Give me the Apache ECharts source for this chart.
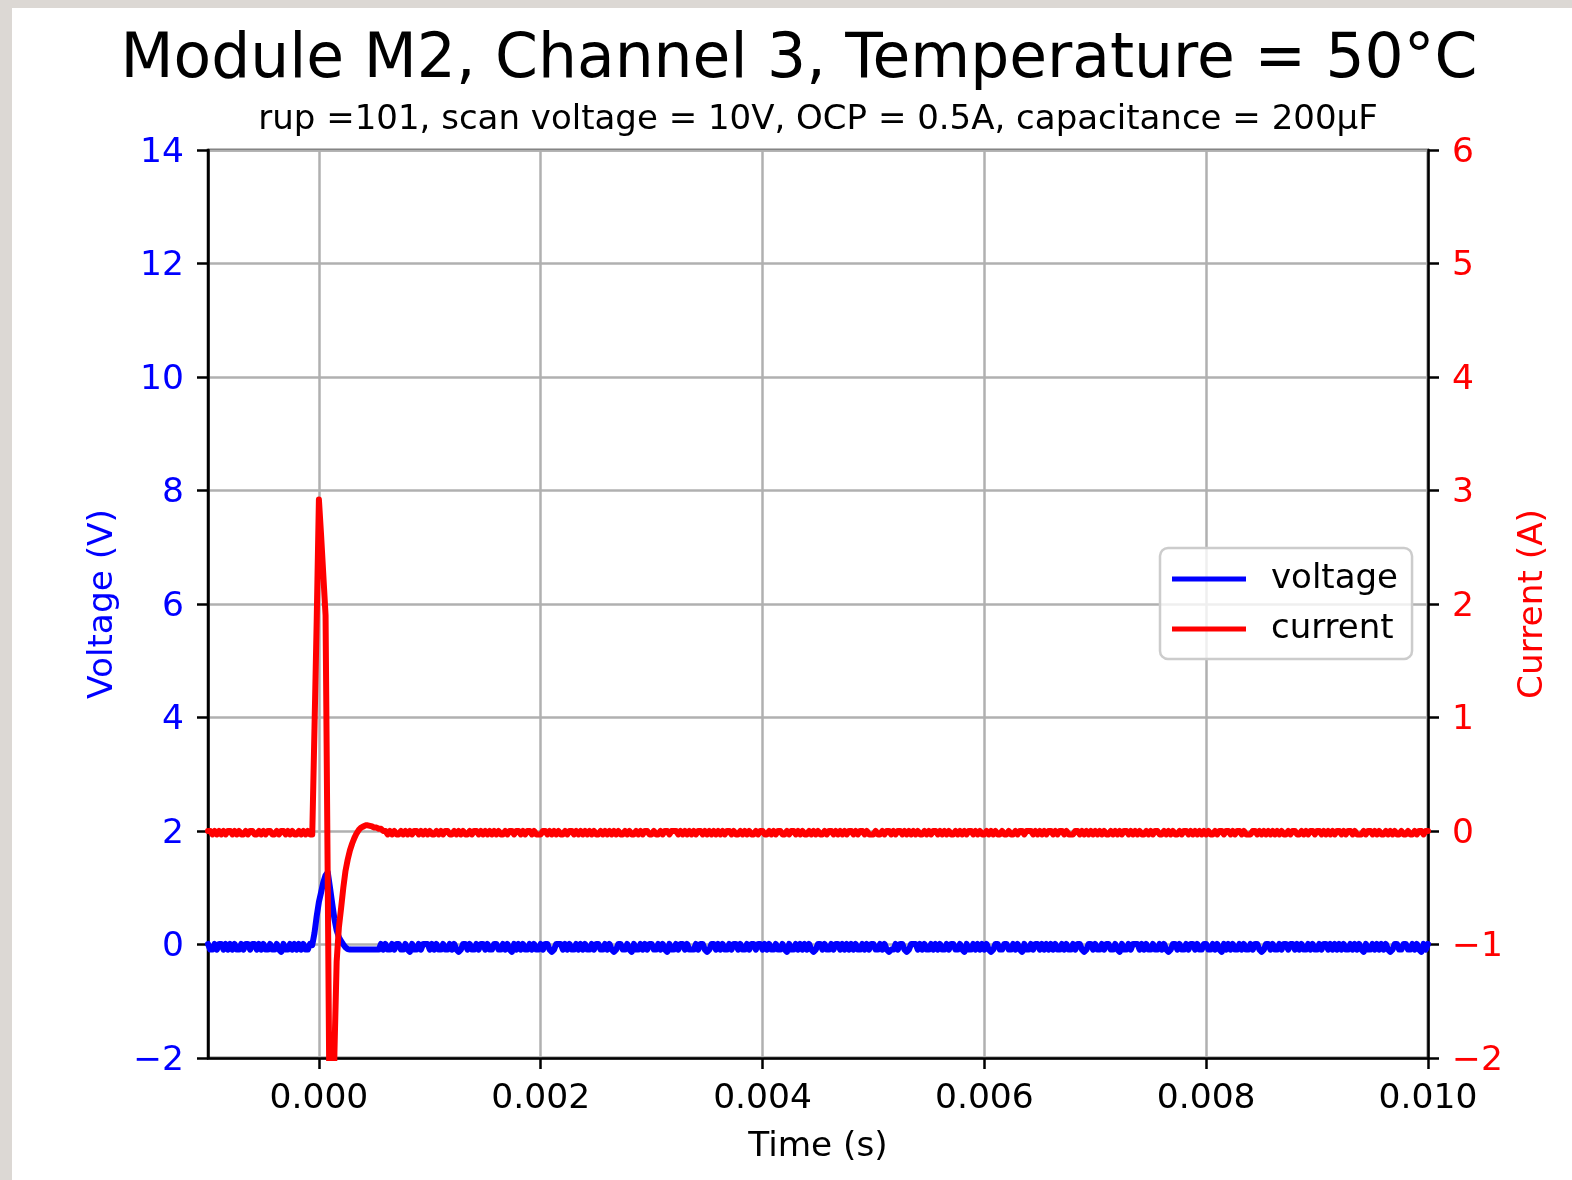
<!DOCTYPE html>
<html>
<head>
<meta charset="utf-8">
<script src="https://cdn.jsdelivr.net/npm/echarts@6/dist/echarts.min.js"></script>
<style>
  html, body { margin: 0; padding: 0; background: #dcd8d4; }
  #sheet { position: absolute; left: 12px; top: 8px; width: 1560px; height: 1172px; background: #ffffff; }
  #chart { position: absolute; left: 0; top: 0; width: 1572px; height: 1180px; }
</style>
</head>
<body>
<div id="sheet"></div>
<div id="chart"></div>
<script>
// Scope capture: Module M2, channel 3 at 50 °C
const titleText = 'Module M2, Channel 3, Temperature = 50°C';
const subtitleText = 'rup =101, scan voltage = 10V, OCP = 0.5A, capacitance = 200µF';

// Sampling grid of the capture (seconds)
const timeStart = -0.001;
const samplePeriod = 0.00002;

// Tick positions on the time axis
const timeTicks = [0, 0.002, 0.004, 0.006, 0.008, 0.010];

// Voltage samples (V), one per sample period
const voltageV = [
  0.01,-0.09,-0.09,0.01,-0.09,0.01,0.01,-0.09,0.01,-0.09,
  0.01,-0.09,0.01,-0.09,-0.09,0.01,-0.09,0.01,0.01,-0.09,
  0.01,0.01,-0.09,0.01,-0.09,0.01,-0.09,-0.09,0.01,-0.09,
  -0.09,0.01,-0.09,-0.13,0.01,-0.09,-0.09,0.01,-0.09,0.01,
  -0.09,0.01,-0.09,0.01,-0.09,-0.09,0.01,
  -0.01,0.2,0.5,0.75,0.92,1.1,1.22,1.27,1.0,0.72,
  0.45,0.25,0.13,0.06,0.0,-0.05,-0.08,
  -0.09,-0.09,-0.09,-0.09,-0.09,-0.09,-0.09,-0.09,-0.09,-0.09,-0.09,-0.09,-0.09,-0.09,
  0.01,-0.09,0.01,-0.09,-0.09,0.01,-0.09,0.01,0.01,-0.09,
  -0.09,0.01,-0.09,-0.13,0.01,-0.09,-0.09,0.01,-0.09,0.01,
  0.01,0.01,-0.09,0.01,-0.09,0.01,-0.09,-0.09,0.01,-0.09,
  -0.09,0.01,-0.09,0.01,-0.09,-0.13,-0.09,0.01,0.01,-0.09,
  0.01,-0.09,-0.09,0.01,-0.09,0.01,0.01,-0.09,0.01,-0.09,
  -0.09,0.01,0.01,-0.09,-0.09,0.01,-0.09,0.01,-0.09,-0.13,
  0.01,-0.09,0.01,-0.09,0.01,-0.09,-0.09,0.01,-0.09,0.01,
  -0.09,-0.09,0.01,-0.09,0.01,0.01,-0.09,-0.13,-0.09,0.01,
  0.01,0.01,-0.09,0.01,-0.09,0.01,-0.09,-0.09,0.01,-0.09,
  0.01,-0.09,0.01,-0.09,-0.09,0.01,-0.09,0.01,0.01,-0.09,
  -0.09,0.01,-0.09,0.01,-0.09,-0.13,-0.09,0.01,0.01,-0.09,
  -0.09,0.01,-0.09,-0.13,0.01,-0.09,-0.09,0.01,-0.09,0.01,
  -0.09,0.01,0.01,-0.09,-0.09,0.01,-0.09,0.01,-0.09,-0.13,
  0.01,-0.09,-0.09,0.01,-0.09,0.01,0.01,-0.09,0.01,-0.09,
  -0.09,-0.09,0.01,-0.09,0.01,0.01,-0.09,-0.13,-0.09,0.01,
  0.01,-0.09,0.01,-0.09,0.01,-0.09,-0.09,0.01,-0.09,0.01,
  0.01,-0.09,0.01,-0.09,-0.09,0.01,-0.09,0.01,0.01,-0.09,
  0.01,0.01,-0.09,0.01,-0.09,0.01,-0.09,-0.09,0.01,-0.09,
  -0.09,0.01,-0.09,-0.13,0.01,-0.09,-0.09,0.01,-0.09,0.01,
  -0.09,0.01,-0.09,0.01,-0.09,-0.13,-0.09,0.01,0.01,-0.09,
  0.01,-0.09,-0.09,0.01,-0.09,0.01,0.01,-0.09,0.01,-0.09,
  0.01,-0.09,0.01,-0.09,0.01,-0.09,-0.09,0.01,-0.09,0.01,
  -0.09,0.01,0.01,-0.09,-0.09,0.01,-0.09,0.01,-0.09,-0.13,
  -0.09,-0.09,0.01,-0.09,0.01,0.01,-0.09,-0.13,-0.09,0.01,
  0.01,0.01,-0.09,0.01,-0.09,0.01,-0.09,-0.09,0.01,-0.09,
  0.01,-0.09,0.01,-0.09,-0.09,0.01,-0.09,0.01,0.01,-0.09,
  -0.09,0.01,-0.09,-0.13,0.01,-0.09,-0.09,0.01,-0.09,0.01,
  -0.09,0.01,-0.09,0.01,-0.09,-0.13,-0.09,0.01,0.01,-0.09,
  -0.09,0.01,0.01,-0.09,-0.09,0.01,-0.09,0.01,-0.09,-0.13,
  0.01,-0.09,-0.09,0.01,-0.09,0.01,0.01,-0.09,0.01,-0.09,
  0.01,-0.09,0.01,-0.09,0.01,-0.09,-0.09,0.01,-0.09,0.01,
  -0.09,-0.09,0.01,-0.09,0.01,0.01,-0.09,-0.13,-0.09,0.01,
  0.01,-0.09,0.01,-0.09,-0.09,0.01,-0.09,0.01,0.01,-0.09,
  -0.09,0.01,-0.09,-0.13,0.01,-0.09,-0.09,0.01,-0.09,0.01,
  0.01,0.01,-0.09,0.01,-0.09,0.01,-0.09,-0.09,0.01,-0.09,
  -0.09,0.01,-0.09,0.01,-0.09,-0.13,-0.09,0.01,0.01,-0.09,
  0.01,-0.09,-0.09,0.01,-0.09,0.01,0.01,-0.09,0.01,-0.09,
  -0.09,0.01,0.01,-0.09,-0.09,0.01,-0.09,0.01,-0.09,-0.13,
  0.01,-0.09,0.01,-0.09,0.01,-0.09,-0.09,0.01,-0.09,0.01,
  -0.09,-0.09,0.01,-0.09,0.01,0.01,-0.09,-0.13,-0.09,0.01,
  0.01,-0.09,0.01,-0.09,-0.09,0.01,-0.09,0.01,0.01,-0.09,
  0.01,0.01,-0.09,0.01,-0.09,0.01,-0.09,-0.09,0.01,-0.09,
  0.01,-0.09,-0.09,0.01,-0.09,0.01,0.01,-0.09,0.01,-0.09,
  0.01,-0.09,0.01,-0.09,0.01,-0.09,-0.09,0.01,-0.09,0.01,
  -0.09,0.01,-0.09,-0.13,0.01,-0.09,-0.09,0.01,-0.09,0.01,
  -0.09,0.01,-0.09,0.01,-0.09,-0.13,-0.09,0.01,0.01,-0.09,
  -0.09,0.01,0.01,-0.09,-0.09,0.01,-0.09,0.01,-0.09,-0.13,
  0.01,-0.09,0.01
];

// Current samples (A), one per sample period
const currentA = [
  0,0,-0.03,0,-0.03,0,-0.03,0,-0.03,0,
  0,-0.03,0,-0.03,0,-0.03,-0.03,0,-0.03,0,
  0,-0.03,-0.03,0,-0.03,0,-0.03,0,0,-0.03,
  -0.03,0,-0.03,0,0,-0.03,0,-0.03,0,-0.03,
  -0.03,0,-0.03,0,-0.03,0,-0.03,
  -0.03,0.9,1.85,2.92,2.6,2.25,1.9,-0.5,-3.0,-3.2,
  -1.95,-1.15,-0.85,-0.68,-0.5,-0.35,-0.25,-0.17,-0.11,-0.06,
  -0.02,0.01,0.03,0.04,0.05,0.05,0.045,0.04,0.03,0.03,
  0.02,0.02,0.0,
  0,-0.03,0,-0.03,0,-0.03,-0.03,0,-0.03,0,
  -0.03,0,-0.03,0,0,-0.03,0,-0.03,0,-0.03,
  0,-0.03,-0.03,0,-0.03,0,-0.03,0,0,-0.03,
  -0.03,0,-0.03,0,-0.03,0,-0.03,-0.03,0,-0.03,
  0,0,-0.03,0,-0.03,0,-0.03,0,-0.03,0,
  -0.03,0,-0.03,-0.03,0,-0.03,0,0,-0.03,0,
  0,-0.03,0,-0.03,0,0,-0.03,0,-0.03,-0.03,
  -0.03,0,0,-0.03,0,-0.03,0,-0.03,0,-0.03,
  -0.03,0,-0.03,0,0,-0.03,0,-0.03,0,-0.03,
  0,-0.03,0,-0.03,0,-0.03,-0.03,0,-0.03,0,
  -0.03,0,-0.03,0,-0.03,0,-0.03,-0.03,0,-0.03,
  0,-0.03,-0.03,0,-0.03,0,-0.03,0,0,-0.03,
  -0.03,0,-0.03,-0.03,0,-0.03,0,0,-0.03,0,
  0,0,-0.03,0,-0.03,0,-0.03,0,-0.03,0,
  -0.03,0,0,-0.03,0,-0.03,0,-0.03,0,-0.03,
  0,-0.03,0,-0.03,0,0,-0.03,0,-0.03,-0.03,
  0,-0.03,0,-0.03,0,-0.03,-0.03,0,-0.03,0,
  0,-0.03,-0.03,0,-0.03,0,-0.03,0,0,-0.03,
  -0.03,0,-0.03,0,0,-0.03,0,-0.03,0,-0.03,
  -0.03,0,-0.03,0,-0.03,0,-0.03,-0.03,0,-0.03,
  0,0,-0.03,0,-0.03,0,-0.03,0,-0.03,0,
  0,-0.03,0,-0.03,0,0,-0.03,0,-0.03,-0.03,
  -0.03,0,-0.03,-0.03,0,-0.03,0,0,-0.03,0,
  -0.03,0,0,-0.03,0,-0.03,0,-0.03,0,-0.03,
  0,-0.03,-0.03,0,-0.03,0,-0.03,0,0,-0.03,
  0,-0.03,0,-0.03,0,-0.03,-0.03,0,-0.03,0,
  -0.03,0,-0.03,0,0,-0.03,0,-0.03,0,-0.03,
  -0.03,0,-0.03,0,-0.03,0,-0.03,-0.03,0,-0.03,
  -0.03,0,-0.03,-0.03,0,-0.03,0,0,-0.03,0,
  0,0,-0.03,0,-0.03,0,-0.03,0,-0.03,0,
  0,-0.03,0,-0.03,0,0,-0.03,0,-0.03,-0.03,
  -0.03,0,0,-0.03,0,-0.03,0,-0.03,0,-0.03,
  0,-0.03,0,-0.03,0,-0.03,-0.03,0,-0.03,0,
  -0.03,0,-0.03,0,0,-0.03,0,-0.03,0,-0.03,
  0,-0.03,-0.03,0,-0.03,0,-0.03,0,0,-0.03,
  -0.03,0,-0.03,0,-0.03,0,-0.03,-0.03,0,-0.03,
  0,0,-0.03,0,-0.03,0,-0.03,0,-0.03,0,
  -0.03,0,-0.03,-0.03,0,-0.03,0,0,-0.03,0,
  0,-0.03,0,-0.03,0,0,-0.03,0,-0.03,-0.03,
  -0.03,0,0,-0.03,0,-0.03,0,-0.03,0,-0.03,
  0,-0.03,0,-0.03,0,-0.03,-0.03,0,-0.03,0,
  0,-0.03,-0.03,0,-0.03,0,-0.03,0,0,-0.03,
  0,0,-0.03,0,-0.03,0,-0.03,0,-0.03,0,
  0,-0.03,0,-0.03,0,0,-0.03,0,-0.03,-0.03,
  -0.03,0,-0.03,0,0,-0.03,0,-0.03,0,-0.03,
  -0.03,0,-0.03,0,-0.03,0,-0.03,-0.03,0,-0.03,
  -0.03,0,-0.03,-0.03,0,-0.03,0,0,-0.03,0,
  0
];

const FONT = '"DejaVu Sans", "Liberation Sans", sans-serif';
const BLUE = '#0000ff';
const RED = '#ff0000';
const GRID_GRAY = '#b0b0b0';

const toSeries = (values) => values.map((v, i) => [timeStart + i * samplePeriod, v]);
const minusSign = (v) => String(v).replace('-', '\u2212');

const chart = echarts.init(document.getElementById('chart'), null, { renderer: 'canvas' });

// y tick labels sit slightly lower than the em-box middle would put them
const yLabelBase = { margin: 24, verticalAlign: 'top', lineHeight: 6, fontFamily: FONT, fontSize: 34.5, formatter: minusSign };

chart.setOption({
  animation: false,
  backgroundColor: 'transparent',
  textStyle: { fontFamily: FONT },
  graphic: [
    {
      type: 'text', x: 799, y: 61, silent: true,
      style: { text: titleText, font: '61.5px ' + FONT, fill: '#000', align: 'center', verticalAlign: 'middle' }
    },
    {
      type: 'text', x: 818, y: 120, silent: true,
      style: { text: subtitleText, font: '34px ' + FONT, fill: '#000', align: 'center', verticalAlign: 'middle' }
    }
  ],
  grid: {
    left: 208, top: 150, width: 1220, height: 908,
    show: true, borderColor: '#000', borderWidth: 2.5, backgroundColor: 'transparent',
    containLabel: false
  },
  legend: {
    orient: 'vertical',
    left: 1160, top: 548,
    padding: [14, 14, 13, 12],
    itemGap: 16,
    itemWidth: 74,
    itemHeight: 5,
    backgroundColor: 'rgba(255,255,255,0.8)',
    borderColor: '#cccccc',
    borderWidth: 2.5,
    borderRadius: 8,
    textStyle: { fontFamily: FONT, fontSize: 34, color: '#000', lineHeight: 34, padding: [0, 0, 0, 20] },
    data: [
      { name: 'voltage', icon: 'rect' },
      { name: 'current', icon: 'rect' }
    ]
  },
  xAxis: {
    type: 'value',
    min: -0.001, max: 0.010,
    name: 'Time (s)',
    nameLocation: 'middle',
    nameGap: 72,
    nameTextStyle: { fontFamily: FONT, fontSize: 34.3, color: '#000' },
    axisLine: { show: true, onZero: false, lineStyle: { color: '#000', width: 2.5 } },
    axisTick: { show: true, inside: false, length: 11, customValues: timeTicks, lineStyle: { color: '#000', width: 2.5 } },
    axisLabel: {
      customValues: timeTicks, margin: 24,
      fontFamily: FONT, fontSize: 34.5, color: '#000',
      formatter: (v) => v.toFixed(3)
    },
    splitLine: { show: true, lineStyle: { color: GRID_GRAY, width: 2.5 } }
  },
  yAxis: [
    {
      type: 'value', position: 'left',
      min: -2, max: 14, interval: 2,
      name: 'Voltage (V)', nameLocation: 'middle', nameRotate: 90, nameGap: 88,
      nameTextStyle: { fontFamily: FONT, fontSize: 34.3, color: BLUE },
      axisLine: { show: true, onZero: false, lineStyle: { color: '#000', width: 2.5 } },
      axisTick: { show: true, inside: false, length: 11, lineStyle: { color: '#000', width: 2.5 } },
      axisLabel: Object.assign({ color: BLUE }, yLabelBase),
      splitLine: { show: true, lineStyle: { color: GRID_GRAY, width: 2.5 } }
    },
    {
      type: 'value', position: 'right',
      min: -2, max: 6, interval: 1,
      name: 'Current (A)', nameLocation: 'middle', nameRotate: 90, nameGap: 88,
      nameTextStyle: { fontFamily: FONT, fontSize: 34.3, color: RED },
      axisLine: { show: true, onZero: false, lineStyle: { color: '#000', width: 2.5 } },
      axisTick: { show: true, inside: false, length: 11, lineStyle: { color: '#000', width: 2.5 } },
      axisLabel: Object.assign({ color: RED }, yLabelBase),
      splitLine: { show: false }
    }
  ],
  series: [
    {
      name: 'voltage', type: 'line', yAxisIndex: 0,
      data: toSeries(voltageV),
      showSymbol: false, symbol: 'none',
      color: BLUE,
      lineStyle: { color: BLUE, width: 6, join: 'round', cap: 'round' },
      clip: true, z: 3
    },
    {
      name: 'current', type: 'line', yAxisIndex: 1,
      data: toSeries(currentA),
      showSymbol: false, symbol: 'none',
      color: RED,
      lineStyle: { color: RED, width: 6, join: 'round', cap: 'round' },
      clip: true, z: 4
    }
  ]
});
</script>
</body>
</html>
